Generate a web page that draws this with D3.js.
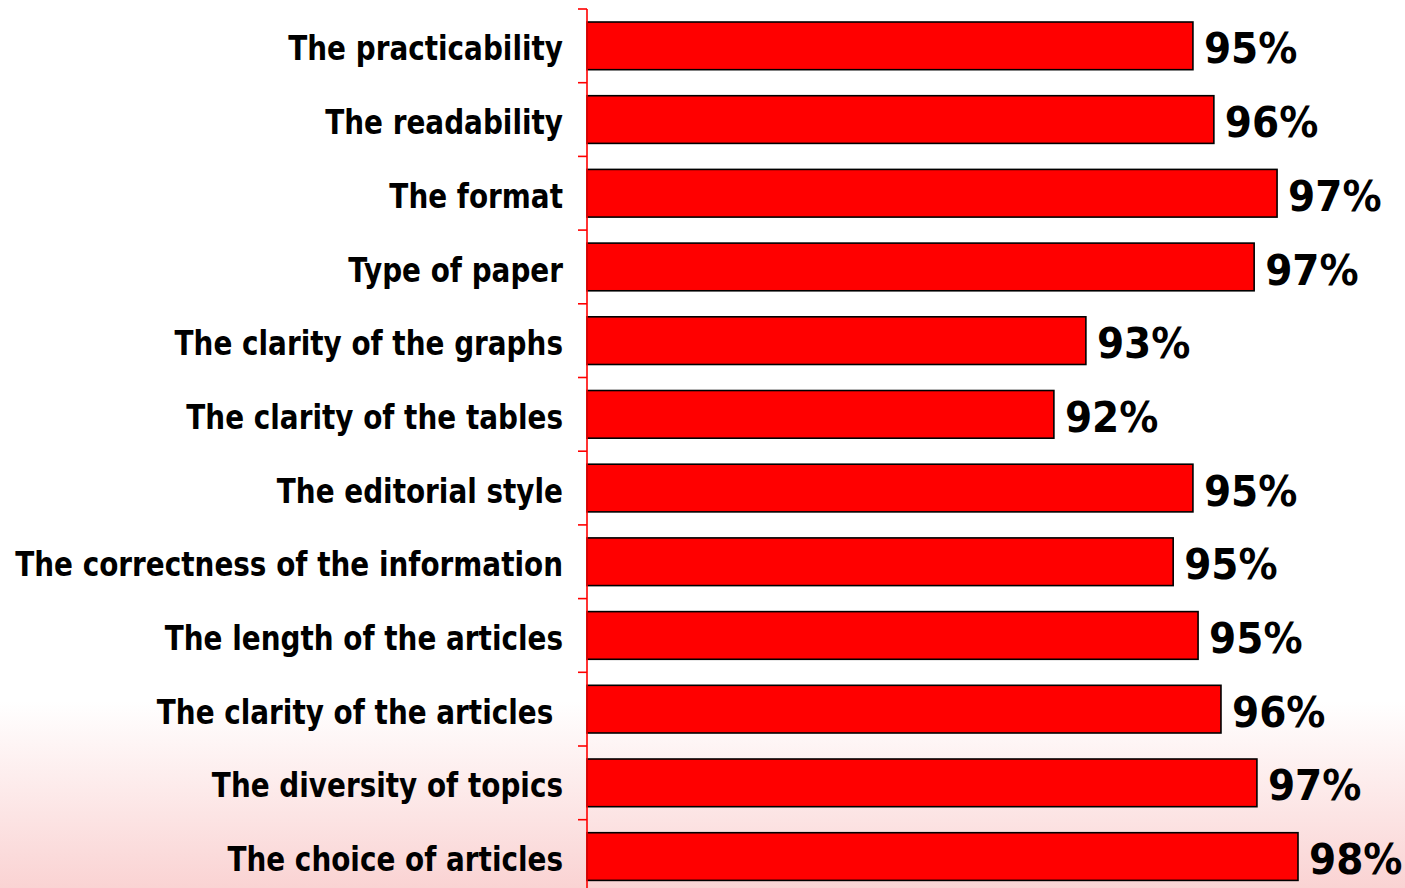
<!DOCTYPE html>
<html>
<head>
<meta charset="utf-8">
<script src="https://cdn.jsdelivr.net/npm/d3@7"></script>
<style>
  html, body { margin: 0; padding: 0; background: #fff; }
  svg { display: block; }
  text { font-family: "DejaVu Sans", sans-serif; font-weight: bold; fill: #000; }
</style>
</head>
<body>
<svg id="chart" width="1405" height="888"></svg>
<script>
const categories = [
  "The practicability",
  "The readability",
  "The format",
  "Type of paper",
  "The clarity of the graphs",
  "The clarity of the tables",
  "The editorial style",
  "The correctness of the information",
  "The length of the articles",
  "The clarity of the articles ",
  "The diversity of topics",
  "The choice of articles"
];
const values = [95.34, 95.87, 97.47, 96.89, 92.63, 91.82, 95.34, 94.84, 95.47, 96.05, 96.96, 98.0];
const valueLabels = ["95%", "96%", "97%", "97%", "93%", "92%", "95%", "95%", "95%", "96%", "97%", "98%"];
const xDomain = [80, 100];

const W = 1405, H = 888;
const axisX = 587;
const labelRight = 563;
const longestLabelWidth = 548;
const svg = d3.select("#chart");

const defs = svg.append("defs");
const grad = defs.append("linearGradient").attr("id", "bg").attr("x1", 0).attr("y1", 0).attr("x2", 0).attr("y2", 1);
grad.append("stop").attr("offset", "0").attr("stop-color", "#ffffff");
grad.append("stop").attr("offset", "0.79").attr("stop-color", "#ffffff");
grad.append("stop").attr("offset", "1").attr("stop-color", "#fad3d3");
svg.append("rect").attr("width", W).attr("height", H).attr("fill", "url(#bg)");

const x = d3.scaleLinear().domain(xDomain).range([axisX, axisX + 790]);
const y = d3.scaleBand().domain(categories).range([9, 9 + 12 * 73.7]).paddingInner(0.353).paddingOuter(0.1765);

const data = categories.map((c, i) => ({ c, v: values[i], l: valueLabels[i] }));

svg.append("g").selectAll("rect").data(data).join("rect")
  .attr("x", x(xDomain[0]))
  .attr("y", d => y(d.c))
  .attr("width", d => x(d.v) - x(xDomain[0]))
  .attr("height", y.bandwidth())
  .attr("fill", "#ff0000")
  .attr("stroke", "#000")
  .attr("stroke-width", 1.6);

// axis
const ag = svg.append("g");
const r = y.range();
ag.append("line").attr("x1", axisX).attr("x2", axisX).attr("y1", r[0]).attr("y2", H + 10)
  .attr("stroke", "#ff0000").attr("stroke-width", 1.6);
const tickYs = d3.range(categories.length + 1).map(i => r[0] + i * y.step());
ag.selectAll("line.t").data(tickYs).join("line").attr("class", "t")
  .attr("x1", axisX - 9).attr("x2", axisX).attr("y1", d => d).attr("y2", d => d)
  .attr("stroke", "#ff0000").attr("stroke-width", 1.6);

// category labels (horizontally condensed to mimic the narrow bold face)
const catG = svg.append("g");
const cats = catG.selectAll("text").data(data).join("text")
  .attr("x", 0)
  .attr("y", 0)
  .attr("dy", "0.37em")
  .attr("text-anchor", "end")
  .style("white-space", "pre")
  .attr("font-size", 34)
  .text(d => d.c);
let maxW = 0;
cats.each(function () { maxW = Math.max(maxW, this.getComputedTextLength()); });
const sx = longestLabelWidth / maxW;
cats.attr("transform", d => `translate(${labelRight},${y(d.c) + y.bandwidth() / 2 + 2}) scale(${sx},1)`);

// value labels
const vals = svg.append("g").selectAll("text").data(data).join("text")
  .attr("x", 0)
  .attr("y", 0)
  .attr("dy", "0.37em")
  .attr("font-size", 42)
  .text(d => d.l);
vals.attr("transform", d => `translate(${x(d.v) + 11},${y(d.c) + y.bandwidth() / 2 + 2}) scale(0.93,1)`);
</script>
</body>
</html>
